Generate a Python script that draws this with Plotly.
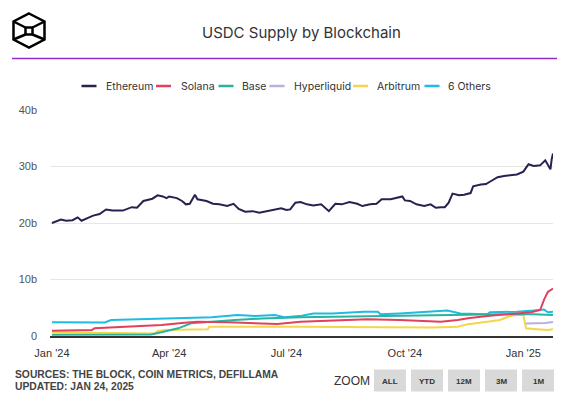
import plotly.graph_objects as go

# ---------------- data (USDC supply, billions) ----------------
eth_dates = ["2024-01-01","2024-01-04","2024-01-08","2024-01-12","2024-01-17","2024-01-21","2024-01-24","2024-01-29",
             "2024-02-02","2024-02-07","2024-02-12","2024-02-17","2024-02-25","2024-03-03","2024-03-07","2024-03-12",
             "2024-03-19","2024-03-23","2024-03-27","2024-03-30","2024-04-01","2024-04-07","2024-04-11","2024-04-14",
             "2024-04-17","2024-04-21","2024-04-23","2024-04-30","2024-05-05","2024-05-10","2024-05-16","2024-05-21",
             "2024-05-25","2024-05-30","2024-06-05","2024-06-10","2024-06-16","2024-06-21","2024-06-27","2024-07-01",
             "2024-07-04","2024-07-08","2024-07-12","2024-07-17","2024-07-22","2024-07-28","2024-07-31","2024-08-03",
             "2024-08-08","2024-08-13","2024-08-19","2024-08-25","2024-08-29","2024-09-04","2024-09-09","2024-09-13",
             "2024-09-20","2024-09-25","2024-09-29","2024-10-01","2024-10-05","2024-10-10","2024-10-16","2024-10-21",
             "2024-10-25","2024-10-29","2024-11-01","2024-11-04","2024-11-07","2024-11-12","2024-11-16","2024-11-21",
             "2024-11-23","2024-11-29","2024-12-03","2024-12-06","2024-12-12","2024-12-17","2024-12-22","2024-12-27",
             "2025-01-01","2025-01-05","2025-01-09","2025-01-14","2025-01-18","2025-01-20","2025-01-22","2025-01-23",
             "2025-01-24"]
eth_values = [20.0,20.3,20.6,20.4,20.5,21.0,20.4,20.9,
              21.3,21.6,22.4,22.2,22.2,22.8,22.7,23.9,
              24.3,24.9,24.7,24.4,24.7,24.4,23.9,23.3,
              23.4,25.0,24.2,23.9,23.4,23.3,23.0,23.4,
              22.5,22.0,22.1,21.8,22.1,22.3,22.6,22.3,
              22.4,23.6,23.7,23.3,23.1,23.3,22.7,22.1,
              23.4,23.3,23.7,23.4,23.0,23.3,23.4,24.2,
              24.2,24.5,24.7,24.0,23.9,23.3,23.0,23.3,
              22.7,22.8,22.8,23.6,25.2,24.9,25.0,25.3,
              26.5,26.8,26.9,27.3,28.1,28.3,28.4,28.6,
              29.1,30.4,30.1,30.2,31.1,30.4,29.5,31.3,
              32.3]

sol_dates = ["2024-01-01","2024-02-01","2024-02-03","2024-02-29","2024-03-26","2024-04-13","2024-04-23","2024-05-17",
             "2024-06-12","2024-06-24","2024-07-12","2024-08-06","2024-09-02","2024-09-27","2024-10-29","2024-11-11",
             "2024-11-19","2024-12-04","2024-12-14","2025-01-07","2025-01-14","2025-01-17","2025-01-20","2025-01-24"]
sol_values = [0.94,1.06,1.36,1.65,1.95,2.36,2.54,2.42,
              2.24,2.12,2.54,2.71,2.95,2.83,2.54,2.83,
              3.13,3.54,3.72,4.2,4.6,6.4,7.8,8.4]

base_dates = ["2024-01-01","2024-03-18","2024-03-26","2024-04-08","2024-04-18","2024-05-04","2024-05-22","2024-06-12",
              "2024-07-12","2024-09-02","2024-10-23","2024-12-14","2025-01-09","2025-01-24"]
base_values = [0.24,0.25,0.65,1.36,2.24,2.54,2.83,3.1,
               3.3,3.5,3.72,3.83,3.83,3.72]

hyper_dates = ["2025-01-03","2025-01-10","2025-01-18","2025-01-24"]
hyper_values = [2.2,2.2,2.3,2.5]

arb_dates = ["2024-01-01","2024-02-15","2024-03-21","2024-03-23","2024-03-29","2024-05-01","2024-05-02","2024-07-12",
             "2024-09-02","2024-10-23","2024-11-11","2024-11-19","2024-12-04","2024-12-14","2024-12-20","2024-12-25",
             "2025-01-01","2025-01-03","2025-01-09","2025-01-20","2025-01-24"]
arb_values = [0.65,0.5,0.45,0.9,1.06,1.18,1.65,1.65,
              1.53,1.5,1.65,2.1,2.54,2.83,3.4,3.72,
              3.72,1.36,1.24,1.06,1.18]

oth_dates = ["2024-01-01","2024-02-11","2024-02-16","2024-03-13","2024-04-08","2024-05-04","2024-05-24","2024-06-07",
             "2024-06-22","2024-06-30","2024-07-13","2024-07-22","2024-08-06","2024-08-30","2024-09-10","2024-09-12",
             "2024-09-27","2024-10-18","2024-11-03","2024-11-13","2024-12-04","2024-12-06","2024-12-27","2025-01-09",
             "2025-01-17","2025-01-20","2025-01-24"]
oth_values = [2.42,2.4,2.83,3.0,3.1,3.3,3.72,3.54,
              3.72,3.3,3.6,4.0,4.0,4.3,4.3,3.85,
              4.0,4.3,4.5,4.0,3.85,4.2,4.3,4.5,
              4.7,4.2,4.3]

series_names = ["Ethereum", "Solana", "Base", "Hyperliquid", "Arbitrum", "6 Others"]
series_colors = ["#26224f", "#e2405c", "#2bb3a0", "#b5b1dd", "#f3d64a", "#1fbbe0"]

y_tickvals = [0, 10, 20, 30, 40]
y_ticktext = ["0", "10b", "20b", "30b", "40b"]
x_tickvals = ["2024-01-01", "2024-04-01", "2024-07-01", "2024-10-01", "2025-01-01"]
x_ticktext = ["Jan '24", "Apr '24", "Jul '24", "Oct '24", "Jan '25"]

zoom_buttons = ["ALL", "YTD", "12M", "3M", "1M"]

title_text = "USDC Supply by Blockchain"
source_lines = ["SOURCES: THE BLOCK, COIN METRICS, DEFILLAMA", "UPDATED: JAN 24, 2025"]

# ---------------- layout geometry ----------------
W, H = 572, 398
L, R, T, B = 50, 19, 110, 62
PW = W - L - R
PH = H - T - B


def px(x):
    return (x - L) / PW


def py(y):
    return (H - B - y) / PH


fig = go.Figure()
all_series = [(eth_dates, eth_values), (sol_dates, sol_values), (base_dates, base_values),
              (hyper_dates, hyper_values), (arb_dates, arb_values), (oth_dates, oth_values)]
# draw order: others behind, Ethereum on top
for i in [5, 4, 3, 2, 1, 0]:
    d, v = all_series[i]
    fig.add_trace(go.Scatter(x=d, y=v, mode="lines", name=series_names[i],
                             line=dict(color=series_colors[i], width=2),
                             showlegend=False, hoverinfo="skip"))

shapes = []
annotations = []

# title
annotations.append(dict(text=title_text, x=px(301.5), y=py(32.5), xref="paper", yref="paper",
                        xanchor="center", yanchor="middle", showarrow=False,
                        font=dict(family="Inter", size=15, color="#333333")))
# purple rule
shapes.append(dict(type="line", xref="paper", yref="paper", x0=px(12), x1=px(557), y0=py(58.5), y1=py(58.5),
                   line=dict(color="#8e2dc5", width=1.5)))

# logo (cube outline)
logo_pts = [(29, 13.5), (44.5, 21.5), (44.5, 39.5), (29, 47.5), (13.5, 39.5), (13.5, 21.5)]
path = "M " + " L ".join(f"{px(a)},{py(b)}" for a, b in logo_pts) + " Z"
shapes.append(dict(type="path", xref="paper", yref="paper", path=path,
                   line=dict(color="#000000", width=2.5)))
inner = (25.5, 27.5, 32.5, 34.5)
shapes.append(dict(type="rect", xref="paper", yref="paper", x0=px(inner[0]), x1=px(inner[2]),
                   y0=py(inner[3]), y1=py(inner[1]), line=dict(color="#000000", width=2.5)))
for (ox, oy), (ix, iy) in [((13.5, 21.5), (inner[0], inner[1])), ((44.5, 21.5), (inner[2], inner[1])),
                           ((13.5, 39.5), (inner[0], inner[3])), ((44.5, 39.5), (inner[2], inner[3]))]:
    shapes.append(dict(type="line", xref="paper", yref="paper", x0=px(ox), y0=py(oy), x1=px(ix), y1=py(iy),
                       line=dict(color="#000000", width=2.5)))

# custom legend
leg_line_x = [81.5, 156, 218.5, 269.5, 353, 424.5]
leg_text_x = [104, 178.5, 240, 291.5, 375, 445.5]
for i, name in enumerate(series_names):
    shapes.append(dict(type="line", xref="paper", yref="paper", x0=px(leg_line_x[i]), x1=px(leg_line_x[i] + 15),
                       y0=py(86), y1=py(86), line=dict(color=series_colors[i], width=2.5)))
    annotations.append(dict(text=name, x=px(leg_text_x[i]), y=py(86), xref="paper", yref="paper",
                            xanchor="left", yanchor="middle", showarrow=False,
                            font=dict(family="Inter", size=10.5, color="#333333")))

# sources
for k, line in enumerate(source_lines):
    annotations.append(dict(text=f"<b>{line}</b>", x=px(13), y=py(374.5 + 12 * k), xref="paper", yref="paper",
                            xanchor="left", yanchor="middle", showarrow=False,
                            font=dict(family="Liberation Sans", size=10.3, color="#444444")))

# zoom label + buttons
annotations.append(dict(text="ZOOM", x=px(351.5), y=py(380.5), xref="paper", yref="paper",
                        xanchor="center", yanchor="middle", showarrow=False,
                        font=dict(family="Liberation Sans", size=12, color="#333333")))
btn_left = [374, 411, 448, 485, 522]
for i, lab in enumerate(zoom_buttons):
    shapes.append(dict(type="rect", xref="paper", yref="paper", x0=px(btn_left[i]), x1=px(btn_left[i] + 32),
                       y0=py(391.5), y1=py(369.5), fillcolor="#d9d9d9", line=dict(width=0)))
    annotations.append(dict(text=f"<b>{lab}</b>", x=px(btn_left[i] + 16), y=py(381), xref="paper", yref="paper",
                            xanchor="center", yanchor="middle", showarrow=False,
                            font=dict(family="Liberation Sans", size=8, color="#333333")))

fig.update_layout(
    width=W, height=H,
    margin=dict(l=L, r=R, t=T, b=B, pad=0),
    paper_bgcolor="#ffffff", plot_bgcolor="#ffffff",
    showlegend=False,
    shapes=shapes, annotations=annotations,
    xaxis=dict(type="date", range=["2023-12-30 12:00", "2025-01-24"],
               tickvals=x_tickvals, ticktext=x_ticktext, showgrid=False, zeroline=False,
               showline=True, linecolor="#333333", linewidth=1.5, ticks="",
               ticklabelstandoff=6,
               tickfont=dict(family="Liberation Sans", size=11, color="#333333")),
    yaxis=dict(range=[0, 40], tickvals=y_tickvals, ticktext=y_ticktext, showgrid=True,
               gridcolor="#e6e6e6", gridwidth=1, zeroline=False, showline=False, ticks="",
               ticklabelstandoff=12,
               tickfont=dict(family="Liberation Sans", size=11, color="#555555")),
)

fig.write_html("out.html", config={"displayModeBar": False},
               post_script="document.body.style.margin='0px';document.body.style.overflow='hidden';")
